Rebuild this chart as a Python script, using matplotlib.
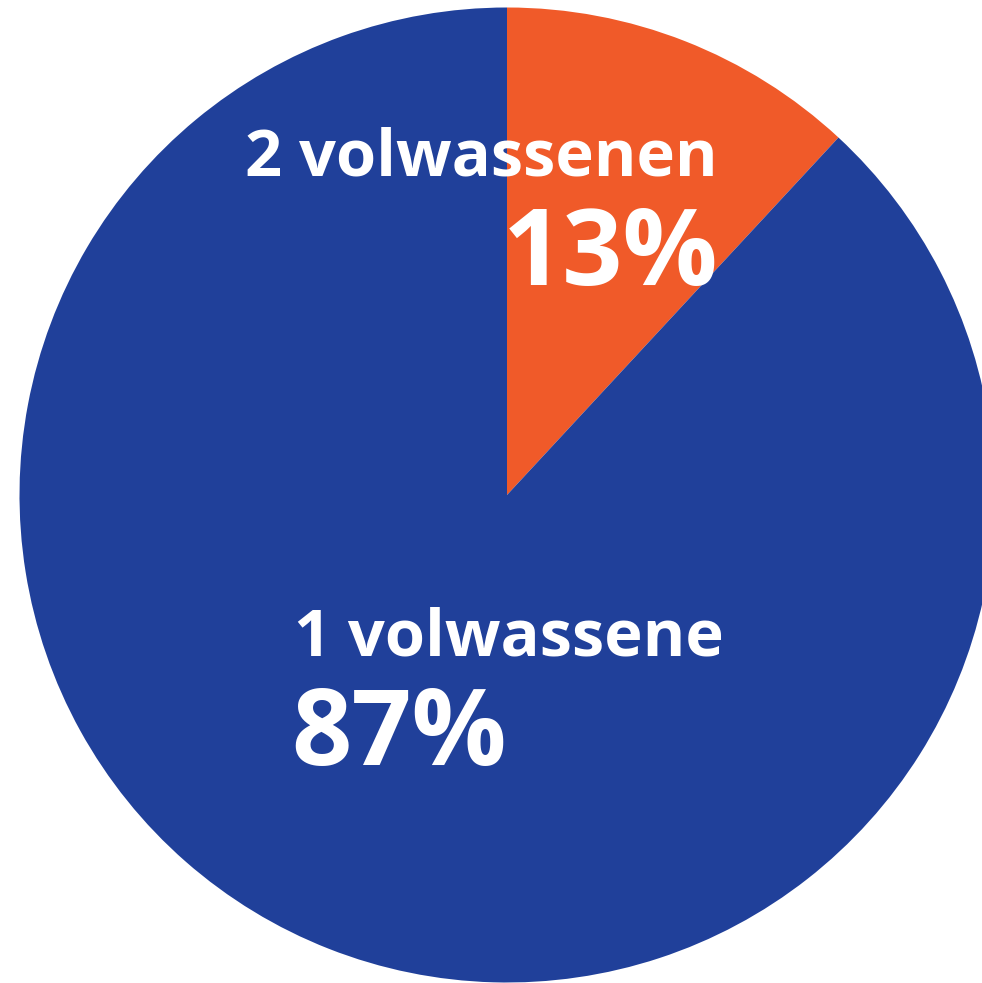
import matplotlib
matplotlib.use("Agg")
import matplotlib.pyplot as plt

# Data
categories = ["2 volwassenen", "1 volwassene"]
shares = [11.9, 88.1]          # slice sizes as drawn in the picture
pct_labels = ["13%", "87%"]    # printed percentages
colors = ["#F05A29", "#20409A"]

W, H = 982, 983
fig = plt.figure(figsize=(W / 100, H / 100), dpi=100)
ax = fig.add_axes([0, 0, 1, 1])

cx, cy, r = 507, H - 495, 487.5
ax.pie(shares, colors=colors, startangle=90, counterclock=False,
       center=(cx, cy), radius=r, wedgeprops=dict(linewidth=0),
       frame=True)
ax.set_xlim(0, W)
ax.set_ylim(0, H)
ax.set_aspect("equal")
ax.axis("off")

font = dict(family="Open Sans", weight="bold", color="white")
# top slice label (right aligned)
ax.text(718, H - 175, categories[0], ha="right", va="baseline", fontsize=46.8, **font)
ax.text(718, H - 285, pct_labels[0], ha="right", va="baseline", fontsize=76, **font)
# large slice label (left aligned)
ax.text(294, H - 655, categories[1], ha="left", va="baseline", fontsize=46.8, **font)
ax.text(291, H - 765, pct_labels[1], ha="left", va="baseline", fontsize=76, **font)

fig.savefig("out.png", dpi=100)
